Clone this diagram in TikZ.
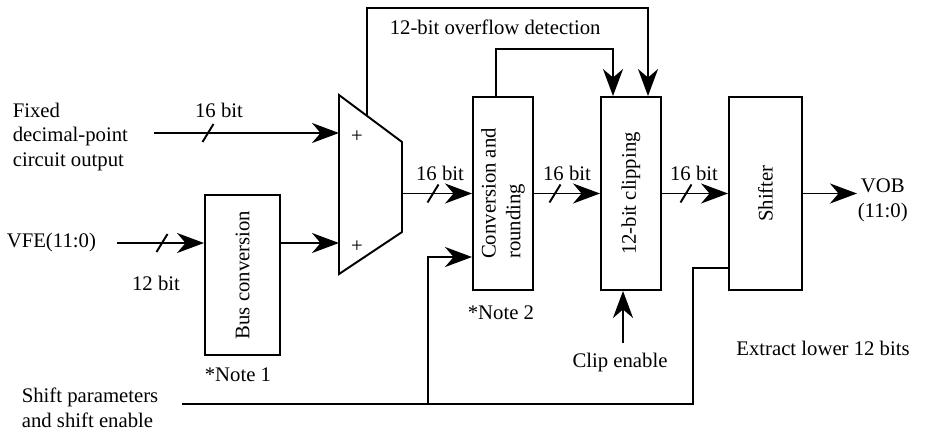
\documentclass[tikz,border=0pt]{standalone}
\usepackage{fontspec}
\setmainfont{Liberation Serif}
\usetikzlibrary{arrows.meta}
\begin{document}
\begin{tikzpicture}[>={Stealth[length=0.54cm, width=0.40cm, inset=0.17cm]}, line width=1.1pt, line join=miter,
  every node/.style={font=\fontsize{11.8pt}{14.2pt}\selectfont},
  block/.style={draw, inner sep=0pt, minimum width=1.2cm, minimum height=3.86cm}]
  \useasboundingbox (0,0) rectangle (19,8.62);

  % Blocks
  \node[block, minimum width=1.5cm, minimum height=3.2cm] (bus) at (4.85, 3.12) {\rotatebox{90}{Bus conversion}};
  \node[block] (conv) at (10.06, 4.75) {\rotatebox{90}{\begin{tabular}{@{}l@{}}Conversion and\\ rounding\end{tabular}}};
  \node[block] (clip) at (12.62, 4.75) {\rotatebox{90}{12-bit clipping}};
  \node[block, minimum width=1.46cm] (shifter) at (15.31, 4.75) {\rotatebox{90}{Shifter}};

  % Adder
  \coordinate (addtl) at (6.78, 6.72);
  \coordinate (addtr) at (8.04, 5.78);
  \coordinate (addbr) at (8.04, 3.98);
  \coordinate (addbl) at (6.78, 3.14);
  \coordinate (addin1) at (6.78, 5.96);
  \coordinate (addin2) at (6.78, 3.76);
  \coordinate (addout) at (8.04, 4.75);
  \coordinate (addtap) at (7.34, 6.30);
  \draw (addtl) -- (addtr) -- (addbr) -- (addbl) -- cycle;
  \node (plus1) at (7.14, 5.88) {+};
  \node (plus2) at (7.14, 3.68) {+};

  % Texts
  \node[anchor=west, align=left] (fixed) at (0.12, 5.88) {Fixed\\decimal-point\\circuit output};
  \node[anchor=west] (vfe) at (0.0, 3.76) {VFE(11:0)};
  \node[anchor=west, align=left] (shift) at (0.30, 0.47) {Shift parameters\\and shift enable};
  \node[anchor=west] (note1) at (3.96, 1.12) {*Note 1};
  \node[anchor=west] (note2) at (9.22, 2.36) {*Note 2};
  \node[anchor=west] (ovlbl) at (7.66, 8.08) {12-bit overflow detection};
  \node[anchor=west, align=center] (vob) at (17.02, 4.62) {VOB\\(11:0)};
  \node (clipen) at (12.4, 1.36) {Clip enable};
  \node (extract) at (16.46, 1.66) {Extract lower 12 bits};

  % Data path
  \coordinate (fixin) at (3.08, 5.96);
  \coordinate (vfein) at (2.34, 3.76);
  \coordinate (vobout) at (17.14, 4.75);
  \draw[->] (fixin) -- (addin1);
  \draw[->] (vfein) -- (bus.west |- vfein);
  \draw[->] (bus.east |- addin2) -- (addin2);
  \draw[->] (addout) -- (conv);
  \draw[->] (conv) -- (clip);
  \draw[->] (clip) -- (shifter);
  \draw[->] (shifter) -- (vobout);

  % Bus width marks
  \coordinate (s1) at (4.16, 5.96);
  \coordinate (s2) at (3.24, 3.76);
  \coordinate (s3) at (8.66, 4.75);
  \coordinate (s4) at (11.10, 4.75);
  \coordinate (s5) at (13.72, 4.75);
  \foreach \s in {s1, s2, s3, s4, s5}
    \draw ([shift={(-0.11, -0.18)}]\s) -- ([shift={(0.11, 0.18)}]\s);
  \node (w1) at ([shift={(0.22, 0.46)}]s1) {16 bit};
  \node (w2) at ([shift={(-0.12, -0.80)}]s2) {12 bit};
  \node (w3) at ([shift={(0.14, 0.41)}]s3) {16 bit};
  \node (w4) at ([shift={(0.24, 0.41)}]s4) {16 bit};
  \node (w5) at ([shift={(0.16, 0.41)}]s5) {16 bit};

  % Overflow detection
  \coordinate (ovf) at (12.96, 8.46);
  \coordinate (cvf) at (12.26, 7.64);
  \draw[->] (addtap) |- (ovf) -- (ovf |- clip.north);
  \draw[->] ([xshift=-0.14cm]conv.north) |- (cvf) -- (cvf |- clip.north);

  % Shift parameters and clip enable
  \coordinate (shin) at (3.64, 0.54);
  \coordinate (shj) at (8.56, 0.54);
  \coordinate (shr) at (13.86, 0.54);
  \draw (shin) -- (shr) |- ([yshift=-1.49cm]shifter.west);
  \draw[->] (shj) |- ([yshift=-1.27cm]conv.west);
  \coordinate (clipin) at (12.46, 1.76);
  \draw[->] (clipin) -- (clipin |- clip.south);
\end{tikzpicture}
\end{document}
